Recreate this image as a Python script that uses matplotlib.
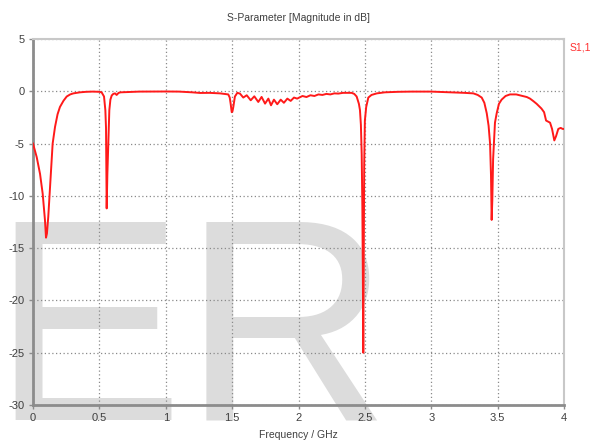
import matplotlib
matplotlib.use("Agg")
import matplotlib.pyplot as plt

freq_ghz = [
    0.000, 0.028, 0.053, 0.073, 0.090, 0.098, 0.105, 0.115, 0.133, 0.148, 0.166,
    0.185, 0.203, 0.230, 0.254, 0.280, 0.304, 0.354, 0.400, 0.450, 0.500, 0.517,
    0.535, 0.545, 0.550, 0.555, 0.560, 0.567, 0.575, 0.583, 0.593, 0.605, 0.618,
    0.630, 0.645, 0.660, 0.700, 0.750, 0.800, 0.900, 1.000, 1.100, 1.200, 1.258,
    1.330, 1.410, 1.471, 1.482, 1.489, 1.497, 1.503, 1.509, 1.521, 1.539, 1.559,
    1.584, 1.610, 1.640, 1.667, 1.697, 1.722, 1.748, 1.773, 1.793, 1.815, 1.840,
    1.866, 1.890, 1.916, 1.941, 1.966, 1.990, 2.030, 2.060, 2.090, 2.120, 2.150,
    2.180, 2.210, 2.240, 2.270, 2.300, 2.335, 2.370, 2.400, 2.420, 2.438, 2.455,
    2.463, 2.470, 2.476, 2.481, 2.485, 2.488, 2.491, 2.495, 2.500, 2.510, 2.526,
    2.550, 2.590, 2.650, 2.750, 2.850, 3.000, 3.066, 3.150, 3.250, 3.317, 3.350,
    3.380, 3.400, 3.418, 3.432, 3.443, 3.450, 3.455, 3.460, 3.466, 3.472, 3.480,
    3.493, 3.510, 3.530, 3.560, 3.593, 3.640, 3.690, 3.720, 3.744, 3.770, 3.794,
    3.830, 3.850, 3.865, 3.880, 3.895, 3.910, 3.927, 3.940, 3.957, 3.975, 3.990,
    4.000,
]
s11_db = [
    -5.0, -6.3, -7.9, -9.8, -12.3, -14.0, -13.6, -12.0, -8.2, -5.0, -3.4,
    -2.2, -1.5, -0.9, -0.5, -0.3, -0.2, -0.1, -0.05, -0.03, -0.05, -0.1,
    -0.5, -1.8, -3.5, -11.2, -8.0, -5.0, -1.8, -0.8, -0.4, -0.25, -0.2,
    -0.35, -0.15, -0.1, -0.08, -0.05, -0.03, -0.02, -0.02, -0.03, -0.1, -0.16,
    -0.15, -0.2, -0.3, -0.6, -1.2, -2.0, -1.9, -1.5, -0.5, -0.15, -0.22,
    -0.6, -0.38, -0.86, -0.48, -1.02, -0.54, -1.18, -0.7, -1.34, -0.8, -1.24,
    -0.8, -1.1, -0.7, -0.92, -0.6, -0.7, -0.45, -0.55, -0.38, -0.45, -0.3,
    -0.35, -0.25, -0.3, -0.2, -0.22, -0.15, -0.15, -0.15, -0.25, -0.5, -1.2,
    -1.8, -3.2, -6.0, -11.0, -18.0, -25.0, -17.0, -7.0, -2.8, -1.5, -0.6,
    -0.35, -0.2, -0.1, -0.05, -0.03, -0.03, -0.06, -0.1, -0.15, -0.2, -0.35,
    -0.6, -1.1, -2.1, -3.3, -5.0, -8.0, -12.3, -10.4, -6.5, -5.0, -3.0,
    -2.1, -1.2, -0.8, -0.45, -0.3, -0.3, -0.45, -0.55, -0.7, -0.95, -1.2,
    -1.65, -2.0, -2.8, -2.9, -3.0, -3.6, -4.7, -4.3, -3.6, -3.5, -3.6,
    -3.6,
]

x_ticks = [0, 0.5, 1, 1.5, 2, 2.5, 3, 3.5, 4]
x_tick_labels = ["0", "0.5", "1", "1.5", "2", "2.5", "3", "3.5", "4"]
y_ticks = [5, 0, -5, -10, -15, -20, -25, -30]
y_tick_labels = ["5", "0", "-5", "-10", "-15", "-20", "-25", "-30"]

title = "S-Parameter [Magnitude in dB]"
xlabel = "Frequency / GHz"
legend_label = "S1,1"
watermark = "ER"

plt.rcParams['font.family'] = ['Liberation Sans', 'DejaVu Sans']

fig = plt.figure(figsize=(5.92, 4.41), dpi=100)
fig.patch.set_facecolor("white")

# watermark behind the axes
fig.text(-9 / 592, (441 - 419) / 441, watermark, fontsize=207, color="#dcdcdc",
         ha="left", va="baseline", family="Liberation Sans", zorder=0)

ax = fig.add_axes([33 / 592, (441 - 405) / 441, 531 / 592, 366 / 441])
ax.set_facecolor("none")
ax.set_zorder(1)

ax.plot(freq_ghz, s11_db, color="#ff1a1a", lw=1.4, zorder=3,
        solid_joinstyle="round")

ax.set_xlim(0, 4)
ax.set_ylim(-30, 5)
ax.set_xticks(x_ticks)
ax.set_xticklabels(x_tick_labels)
ax.set_yticks(y_ticks)
ax.set_yticklabels(y_tick_labels)
ax.grid(True, color="#8a8a8a", linestyle=(0, (1, 2)), lw=0.9)
ax.set_axisbelow(True)

for side in ["left", "bottom"]:
    ax.spines[side].set_color("#8c8c8c")
    ax.spines[side].set_linewidth(2)
for side in ["top", "right"]:
    ax.spines[side].set_color("#c8c8c8")
    ax.spines[side].set_linewidth(1.5)

ax.tick_params(axis="both", length=3, width=1, color="#8c8c8c",
               labelsize=8, labelcolor="#404040", pad=3)

ax.set_title(title, fontsize=7.5, color="#404040", pad=13)
ax.set_xlabel(xlabel, fontsize=7.5, color="#404040", labelpad=5)

fig.text(570 / 592, 1 - 48 / 441, legend_label, fontsize=7.5, color="#ff3030",
         ha="left", va="center")

fig.savefig("out.png", dpi=100, facecolor="white")
